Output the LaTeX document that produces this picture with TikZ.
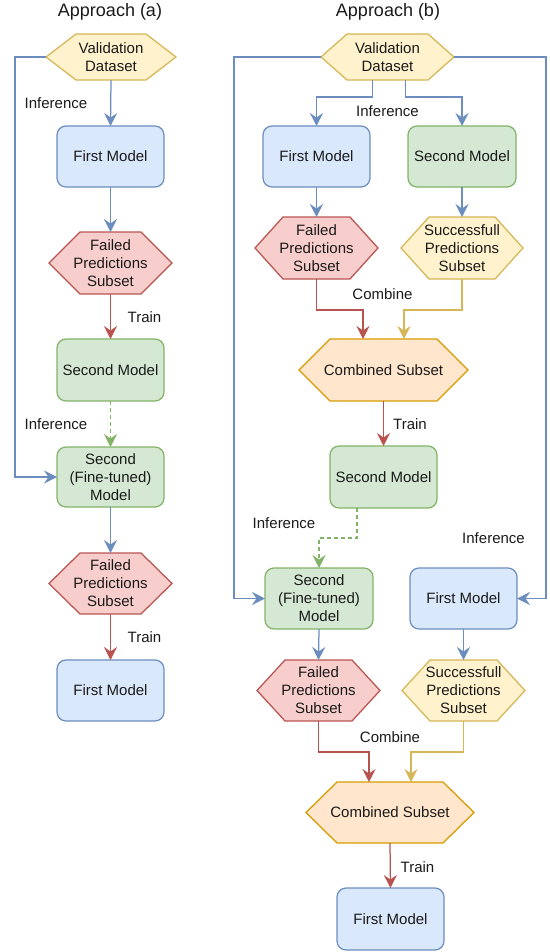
\documentclass[tikz,border=0pt]{standalone}
\usepackage{fontspec}
\setmainfont{Liberation Sans}
\usetikzlibrary{arrows.meta,backgrounds}
\definecolor{bluefill}{HTML}{DAE8FC}\definecolor{bluedraw}{HTML}{6C8EBF}
\definecolor{greenfill}{HTML}{D5E8D4}\definecolor{greendraw}{HTML}{82B366}
\definecolor{redfill}{HTML}{F8CECC}\definecolor{reddraw}{HTML}{B85450}
\definecolor{yelfill}{HTML}{FFF2CC}\definecolor{yeldraw}{HTML}{D6B656}
\definecolor{orfill}{HTML}{FFE6CC}\definecolor{ordraw}{HTML}{D79B00}
\definecolor{txt}{HTML}{1A1A1A}
\tikzset{
  every node/.style={font=\fontsize{15}{18}\selectfont, text=txt},
  box/.style={rounded corners=9pt, line width=1.25pt, align=center, inner sep=0pt, outer sep=0pt},
  bluebox/.style={box, fill=bluefill, draw=bluedraw},
  greenbox/.style={box, fill=greenfill, draw=greendraw},
  hexn/.style={align=center, inner sep=0pt, outer sep=0pt},
  redhex/.style={fill=redfill, draw=reddraw, line width=1.25pt},
  yelhex/.style={fill=yelfill, draw=yeldraw, line width=1.25pt},
  orhex/.style={fill=orfill, draw=ordraw, line width=1.25pt},
  conn/.style={line width=1.25pt, -{Stealth[length=13pt,width=13pt,inset=4.5pt]}},
  bluearr/.style={conn, draw=bluedraw},
  redarr/.style={conn, draw=reddraw},
  yelarr/.style={conn, draw=yeldraw},
  greenarr/.style={conn, draw=greendraw, dash pattern=on 4pt off 3pt},
  lbl/.style={inner sep=0pt},
  ttl/.style={font=\fontsize{18}{21}\selectfont},
}
% #1 name, #2 center, #3 width, #4 height, #5 inset, #6 style, #7 text
\newcommand\hexnode[7]{%
  \node[hexn, minimum width=#3, minimum height=#4] (#1) at #2 {#7};
  \begin{scope}[on background layer]
    \draw[#6] (#1.west) -- ([xshift=#5]#1.north west) -- ([xshift=-#5]#1.north east)
      -- (#1.east) -- ([xshift=-#5]#1.south east) -- ([xshift=#5]#1.south west) -- cycle;
  \end{scope}}
\begin{document}
\begin{tikzpicture}[x=1pt,y=-1pt]
\useasboundingbox (0,0) rectangle (549,952);
% titles
\node[ttl] (ta) at (110,12) {Approach (a)};
\node[ttl] (tb) at (388,12) {Approach (b)};
% ---------- Approach (a)
\hexnode{va}{(111,57)}{130pt}{46pt}{30pt}{yelhex}{Validation\\Dataset}
\node[bluebox, minimum width=107pt, minimum height=61pt] (fm1) at (110.5,156.5) {First Model};
\hexnode{fp1}{(110.5,263)}{123pt}{62pt}{31pt}{redhex}{Failed\\Predictions\\Subset}
\node[greenbox, minimum width=107pt, minimum height=62pt] (sm1) at (110.5,370) {Second Model};
\node[greenbox, minimum width=107pt, minimum height=60pt] (ft1) at (110.5,477) {Second\\(Fine-tuned)\\Model};
\hexnode{fp2}{(110.5,583.5)}{123pt}{61pt}{31pt}{redhex}{Failed\\Predictions\\Subset}
\node[bluebox, minimum width=107pt, minimum height=61pt] (fm2) at (110.5,690.5) {First Model};
\draw[bluearr] (va.south) -- (fm1.north);
\draw[bluearr] (fm1.south) -- (fp1.north);
\draw[redarr] (fp1.south) -- (sm1.north);
\draw[greenarr] (sm1.south) -- (ft1.north);
\draw[bluearr] (ft1.south) -- (fp2.north);
\draw[redarr] (fp2.south) -- (fm2.north);
\draw[bluearr] (va.west) -- (15,57) |- (ft1.west);
\node[lbl] (la1) at (56,103) {Inference};
\node[lbl] (la2) at (144.5,317) {Train};
\node[lbl] (la3) at (56,424) {Inference};
\node[lbl] (la4) at (144.5,637) {Train};
% ---------- Approach (b)
\hexnode{vb}{(387.5,57)}{133pt}{46pt}{26pt}{yelhex}{Validation\\Dataset}
\node[bluebox, minimum width=107pt, minimum height=61pt] (fmb) at (316.5,156.5) {First Model};
\node[greenbox, minimum width=108pt, minimum height=61pt] (smb) at (462,156.5) {Second Model};
\hexnode{fpb}{(316.5,248)}{123pt}{62pt}{28pt}{redhex}{Failed\\Predictions\\Subset}
\hexnode{spb}{(462,248)}{122pt}{62pt}{28pt}{yelhex}{Successfull\\Predictions\\Subset}
\hexnode{cb}{(383.5,370)}{169pt}{62pt}{31pt}{orhex}{Combined Subset}
\node[greenbox, minimum width=107pt, minimum height=62pt] (smb2) at (383.5,477) {Second Model};
\node[greenbox, minimum width=108pt, minimum height=61pt] (ftb) at (319,598.5) {Second\\(Fine-tuned)\\Model};
\node[bluebox, minimum width=107pt, minimum height=61pt] (fmb2) at (463.5,598.5) {First Model};
\hexnode{fpb2}{(318.5,690.5)}{123pt}{61pt}{28pt}{redhex}{Failed\\Predictions\\Subset}
\hexnode{spb2}{(463.5,690.5)}{123pt}{61pt}{28pt}{yelhex}{Successfull\\Predictions\\Subset}
\hexnode{cb2}{(390,812.5)}{168pt}{61pt}{31pt}{orhex}{Combined Subset}
\node[bluebox, minimum width=107pt, minimum height=62pt] (fmf) at (390.5,919) {First Model};
% connectors (b)
\draw[bluearr] ([xshift=-15pt]vb.south) -- ++(0,17) -| (fmb.north);
\draw[bluearr] ([xshift=18pt]vb.south) -- ++(0,17) -| (smb.north);
\draw[bluearr] (fmb.south) -- (fpb.north);
\draw[bluearr] (smb.south) -- (spb.north);
\draw[redarr] (fpb.south) -- ++(0,31) -| ([xshift=-20.5pt]cb.north);
\draw[yelarr] (spb.south) -- ++(0,31) -| ([xshift=20.5pt]cb.north);
\draw[redarr] (cb.south) -- (smb2.north);
\draw[greenarr] ([xshift=-26.5pt]smb2.south) -- ++(0,30) -| (ftb.north);
\draw[bluearr] (vb.west) -- (234,57) |- (ftb.west);
\draw[bluearr] (vb.east) -- (546,57) |- (fmb2.east);
\draw[bluearr] (ftb.south) -- (fpb2.north);
\draw[bluearr] (fmb2.south) -- (spb2.north);
\draw[redarr] (fpb2.south) -- ++(0,31) -| ([xshift=-21pt]cb2.north);
\draw[yelarr] (spb2.south) -- ++(0,31) -| ([xshift=21pt]cb2.north);
\draw[redarr] (cb2.south) -- (fmf.north);
\node[lbl] (lb1) at (387.5,111) {Inference};
\node[lbl] (lb2) at (382.5,294) {Combine};
\node[lbl] (lb3) at (410,424) {Train};
\node[lbl] (lb4) at (284,523) {Inference};
\node[lbl] (lb5) at (493.5,538) {Inference};
\node[lbl] (lb6) at (390,737) {Combine};
\node[lbl] (lb7) at (417.5,867) {Train};
\end{tikzpicture}
\end{document}
